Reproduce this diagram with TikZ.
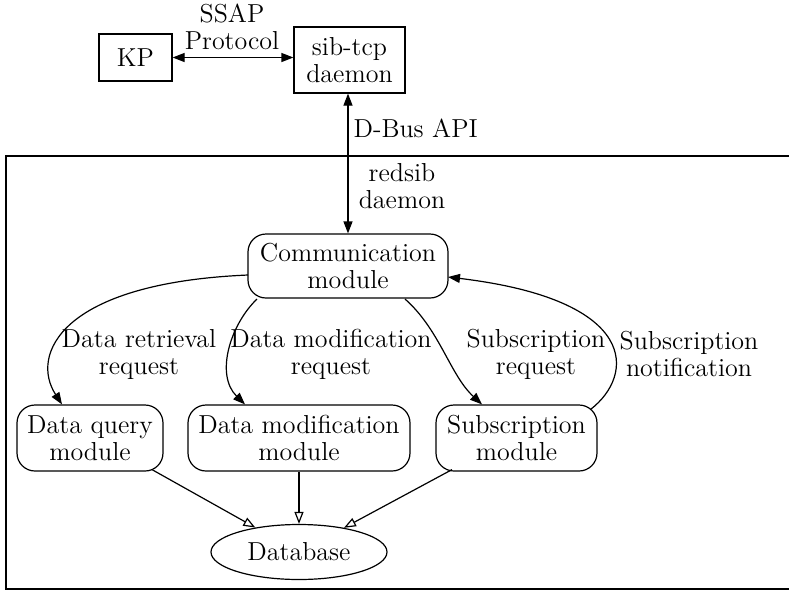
\documentclass[tikz,border=0pt]{standalone}
\usetikzlibrary{arrows.meta,calc,shapes.geometric}
\begin{document}
\begin{tikzpicture}[x=0.5pt,y=-0.5pt,line width=0.6pt,
  every node/.style={font=\fontsize{13}{13.5}\selectfont, align=center, inner sep=0pt},
  plainbox/.style={draw, rectangle},
  modbox/.style={draw, rectangle, rounded corners=9pt, minimum height=33pt},
  lbl/.style={align=center},
  fwd/.style={-{Triangle[length=6pt,width=4.5pt]}},
  both/.style={{Triangle[length=6pt,width=4.5pt]}-{Triangle[length=6pt,width=4.5pt]}},
  hollow/.style={-{Triangle[open,length=6pt,width=4.5pt]}}]
\useasboundingbox (0,0) rectangle (789,591);

% redsib daemon cluster
\draw (800,156) -- (6,156) -- (6,589) -- (800,589);
\node[lbl] (cluster) at (402,186) {redsib\\daemon};

% outside the cluster
\node[plainbox, minimum width=36.5pt, minimum height=23.5pt] (kp) at (135.5,57.5) {KP};
\node[plainbox, minimum width=55.5pt, minimum height=33pt] (sib) at (349.5,60) {sib-tcp\\daemon};

% modules
\node[modbox, minimum width=100pt, minimum height=32pt] (comm) at (348,266) {Communication\\module};
\node[modbox, minimum width=73pt] (dq) at (90,438) {Data query\\module};
\node[modbox, minimum width=111pt] (dm) at (299,438) {Data modification\\module};
\node[modbox, minimum width=80.5pt] (sm) at (516.5,438) {Subscription\\module};
\node[draw, ellipse, minimum width=88pt, minimum height=27.5pt] (db) at (299,552) {Database};

% SSAP link
\draw[both] (kp.east) -- (kp.east -| sib.west);
\node[lbl] (ssap) at (232,27) {SSAP\\Protocol};

% D-Bus link
\draw[both] (comm.north |- sib.south) -- (comm.north);
\node[anchor=west] (dbus) at (353,128) {D-Bus API};

% requests from the communication module
\draw[fwd] ($(comm.center)+(-100,9)$) .. controls (60,283) and (30,355) .. ($(dq.north)+(-28,0)$);
\node[lbl] (l1) at (139,354) {Data retrieval\\request};

\draw[fwd] ($(comm.center)+(-91,33)$) .. controls (230,325) and (215,375) .. ($(dm.north)+(-54,0)$);
\node[lbl] (l2) at (331,354) {Data modification\\request};

\draw[fwd] ($(comm.center)+(57,33)$) .. controls (440,330) and (450,375) .. ($(sm.north)+(-34.5,0)$);
\node[lbl] (l3) at (536,354) {Subscription\\request};

% notification back to the communication module
\draw[fwd] ($(sm.north east)+(-7,5)$) .. controls (635,375) and (640,300) .. ($(comm.center)+(100,11)$);
\node[lbl] (l4) at (689,354) {Subscription\\notification};

% database access
\draw[hollow] ($(dq.south)+(62,-2)$) -- (db);
\draw[hollow] (dm.south) -- (db.north);
\draw[hollow] ($(sm.south)+(-64.5,-2)$) -- (db);
\end{tikzpicture}
\end{document}
